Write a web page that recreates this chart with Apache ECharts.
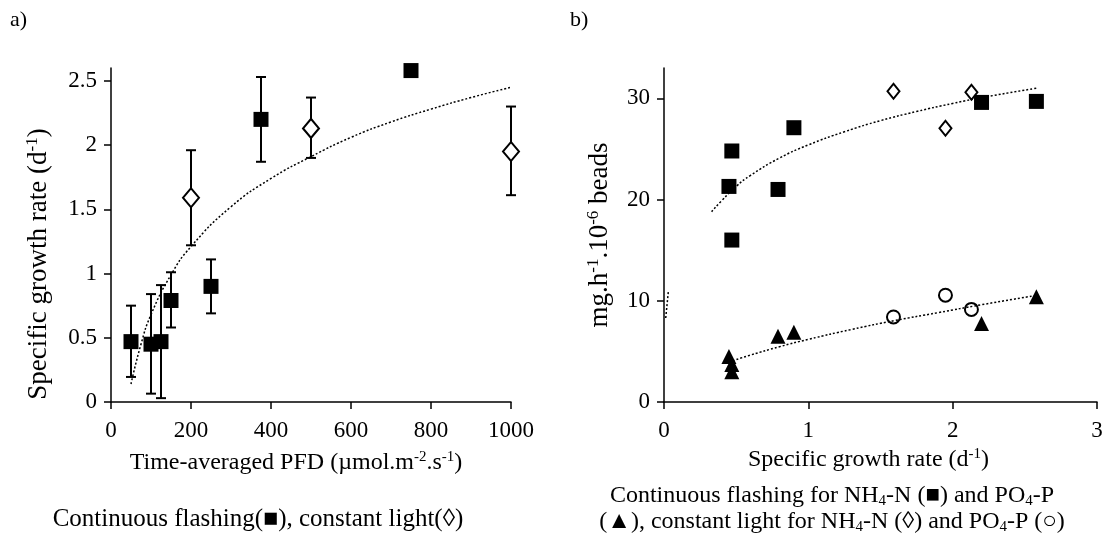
<!DOCTYPE html>
<html>
<head>
<meta charset="utf-8">
<script src="https://cdn.jsdelivr.net/npm/echarts@6/dist/echarts.min.js"></script>
<style>
html, body { margin: 0; background: #fff; }
#main { width: 1108px; height: 560px; }
</style>
</head>
<body>
<div id="main"></div>
<script>
// a) growth rate vs light
var pfdFlash = [50, 100, 125, 150, 250, 375, 750];
var growthFlash = [0.47, 0.45, 0.47, 0.79, 0.9, 2.2, 2.58];
var errFlashHigh = [0.75, 0.84, 0.91, 1.01, 1.11, 2.53, null];
var errFlashLow = [0.195, 0.065, 0.03, 0.58, 0.69, 1.87, null];

var pfdConst = [200, 500, 1000];
var growthConst = [1.59, 2.13, 1.95];
var errConstHigh = [1.96, 2.37, 2.30];
var errConstLow = [1.22, 1.90, 1.61];

// trend line a)
var trendPfd = [50, 75, 100, 150, 200, 300, 400, 500, 600, 700, 800, 900, 1000];
var trendGrowth = [0.14, 0.45, 0.68, 0.99, 1.21, 1.52, 1.74, 1.91, 2.06, 2.18, 2.28, 2.37, 2.45];

// b) uptake vs growth rate (x = growthFlash / growthConst)
var nh4Flash = [24.8, 21.3, 16.0, 21.0, 27.1, 29.6, 29.7];
var po4Flash = [3.7, 4.5, 3.0, 6.5, 6.9, 7.75, 10.4];
var nh4Const = [30.7, 30.6, 27.05];
var po4Const = [8.4, 9.15, 10.55];

var trendNhX = [0.33, 0.4, 0.5, 0.6, 0.8, 1.0, 1.25, 1.5, 1.75, 2.0, 2.25, 2.58];
var trendNhY = [18.8, 19.9, 21.3, 22.4, 24.1, 25.4, 26.7, 27.8, 28.7, 29.5, 30.2, 31.0];
var trendPoX = [0.45, 0.6, 0.8, 1.0, 1.3, 1.6, 1.9, 2.2, 2.58];
var trendPoY = [3.95, 4.64, 5.46, 6.19, 7.17, 8.05, 8.83, 9.61, 10.53];
var stubX = [0.012, 0.03];
var stubY = [8.3, 10.9];

var ticksA = [0, 0.5, 1, 1.5, 2, 2.5];
var ticksB = [0, 10, 20, 30];

var font = "'Liberation Serif', 'Times New Roman', serif";
var myChart = echarts.init(document.getElementById('main'));

function zip(xs, ys) {
	return xs.map(function (x, i) { return [x, ys[i]]; });
}

function errData(xs, lo, hi) {
	var out = [];
	for (var i = 0; i < xs.length; i++) {
		if (lo[i] == null) continue;
		out.push([xs[i], lo[i], hi[i]]);
	}
	return out;
}

function renderErr(params, api) {
	var top = api.coord([api.value(0), api.value(2)]);
	var bot = api.coord([api.value(0), api.value(1)]);
	var w = 5;
	var st = { stroke: '#000', lineWidth: 2 };
	return {
		type: 'group',
		children: [
			{ type: 'line', shape: { x1: top[0], y1: top[1], x2: bot[0], y2: bot[1] }, style: st },
			{ type: 'line', shape: { x1: top[0] - w, y1: top[1], x2: top[0] + w, y2: top[1] }, style: st },
			{ type: 'line', shape: { x1: bot[0] - w, y1: bot[1], x2: bot[0] + w, y2: bot[1] }, style: st }
		]
	};
}

var axisLine = { lineStyle: { color: '#000', width: 1.5 } };
var axisTick = { length: 7, lineStyle: { color: '#000', width: 1.5 } };
var labelStyle = { color: '#000', fontFamily: font, fontSize: 23, formatter: function (v) { return String(v); } };
function nameStyle(size, padding) {
	return {
		color: '#000', fontFamily: font, fontSize: size, lineHeight: size + 2, padding: padding,
		rich: {
			sup: { fontFamily: font, fontSize: Math.round(size * 0.62), color: '#000', verticalAlign: 'top', lineHeight: size + 2 }
		}
	};
}

var dotted = { color: '#000', width: 1.5, type: [2, 2] };

option = {
	animation: false,
	grid: [
		{ left: 111, top: 68, width: 400, height: 334 },
		{ left: 664, top: 68, width: 433, height: 334 }
	],
	xAxis: [{
		gridIndex: 0, type: 'value', min: 0, max: 1000, interval: 200,
		axisLine: axisLine, axisTick: axisTick, splitLine: { show: false },
		axisLabel: Object.assign({ margin: 17 }, labelStyle),
		name: 'Time-averaged PFD (µmol.m{sup|-2}.s{sup|-1})',
		nameLocation: 'middle', nameGap: 48, nameTextStyle: nameStyle(24, [0, 30, 0, 0])
	}, {
		gridIndex: 1, type: 'value', min: 0, max: 3, interval: 1,
		axisLine: axisLine, axisTick: axisTick, splitLine: { show: false },
		axisLabel: Object.assign({ margin: 17 }, labelStyle),
		name: 'Specific growth rate (d{sup|-1})',
		nameLocation: 'middle', nameGap: 42, nameTextStyle: nameStyle(24, [0, 24, 0, 0])
	}],
	yAxis: [{
		gridIndex: 0, type: 'value', min: 0, max: 2.6,
		axisLine: axisLine, splitLine: { show: false },
		axisTick: Object.assign({ customValues: ticksA }, axisTick),
		axisLabel: Object.assign({ margin: 14, customValues: ticksA }, labelStyle),
		name: 'Specific growth rate (d{sup|-1})',
		nameLocation: 'middle', nameGap: 58, nameRotate: 90, nameTextStyle: nameStyle(27, [0, 58, 0, 0])
	}, {
		gridIndex: 1, type: 'value', min: 0, max: 33,
		axisLine: axisLine, splitLine: { show: false },
		axisTick: Object.assign({ customValues: ticksB }, axisTick),
		axisLabel: Object.assign({ margin: 14, customValues: ticksB }, labelStyle),
		name: 'mg.h{sup|-1}.10{sup|-6} beads',
		nameLocation: 'middle', nameGap: 50, nameRotate: 90, nameTextStyle: nameStyle(27, 0)
	}],
	graphic: [
		{ type: 'text', x: 10, y: 9, style: { text: 'a)', font: '22px ' + font, fill: '#000' } },
		{ type: 'text', x: 570, y: 9, style: { text: 'b)', font: '22px ' + font, fill: '#000' } },
		{ type: 'text', x: 258, y: 519, style: {
			text: 'Continuous flashing(\u25A0), constant light(\u25CA)',
			font: '25px ' + font, fill: '#000', align: 'center', verticalAlign: 'middle',
			textAlign: 'center', textVerticalAlign: 'middle'
		} },
		{ type: 'text', x: 832, y: 509, style: {
			text: 'Continuous flashing for NH{sub|4}-N (\u25A0) and PO{sub|4}-P\n(\u25B2), constant light for NH{sub|4}-N (\u25CA) and PO{sub|4}-P (\u25CB)',
			font: '24px ' + font, fill: '#000', lineHeight: 26, align: 'center', verticalAlign: 'middle',
			textAlign: 'center', textVerticalAlign: 'middle',
			rich: { sub: { font: '15px ' + font, fill: '#000', verticalAlign: 'bottom', lineHeight: 26 } }
		} }
	],
	series: [
		{ type: 'custom', xAxisIndex: 0, yAxisIndex: 0, renderItem: renderErr, z: 2, silent: true,
			data: errData(pfdFlash, errFlashLow, errFlashHigh) },
		{ type: 'custom', xAxisIndex: 0, yAxisIndex: 0, renderItem: renderErr, z: 2, silent: true,
			data: errData(pfdConst, errConstLow, errConstHigh) },
		{ type: 'scatter', xAxisIndex: 0, yAxisIndex: 0, symbol: 'rect', symbolSize: 15, z: 3,
			itemStyle: { color: '#000', opacity: 1 }, data: zip(pfdFlash, growthFlash) },
		{ type: 'scatter', xAxisIndex: 0, yAxisIndex: 0, symbol: 'diamond', symbolSize: [16, 19], z: 3,
			itemStyle: { color: '#fff', borderColor: '#000', borderWidth: 2, opacity: 1 }, data: zip(pfdConst, growthConst) },
		{ type: 'line', xAxisIndex: 0, yAxisIndex: 0, showSymbol: false, smooth: true, z: 4, silent: true,
			lineStyle: dotted, data: zip(trendPfd, trendGrowth) },

		{ type: 'scatter', xAxisIndex: 1, yAxisIndex: 1, symbol: 'rect', symbolSize: 15, z: 3,
			itemStyle: { color: '#000', opacity: 1 }, data: zip(growthFlash, nh4Flash) },
		{ type: 'scatter', xAxisIndex: 1, yAxisIndex: 1, symbol: 'diamond', symbolSize: [12, 15], z: 3,
			itemStyle: { color: '#fff', borderColor: '#000', borderWidth: 2, opacity: 1 }, data: zip(growthConst, nh4Const) },
		{ type: 'scatter', xAxisIndex: 1, yAxisIndex: 1, symbol: 'triangle', symbolSize: 15, z: 3,
			itemStyle: { color: '#000', opacity: 1 }, data: zip(growthFlash, po4Flash) },
		{ type: 'scatter', xAxisIndex: 1, yAxisIndex: 1, symbol: 'circle', symbolSize: 13, z: 3,
			itemStyle: { color: '#fff', borderColor: '#000', borderWidth: 2, opacity: 1 }, data: zip(growthConst, po4Const) },
		{ type: 'line', xAxisIndex: 1, yAxisIndex: 1, showSymbol: false, smooth: true, z: 4, silent: true,
			lineStyle: dotted, data: zip(trendNhX, trendNhY) },
		{ type: 'line', xAxisIndex: 1, yAxisIndex: 1, showSymbol: false, smooth: true, z: 4, silent: true,
			lineStyle: dotted, data: zip(trendPoX, trendPoY) },
		{ type: 'line', xAxisIndex: 1, yAxisIndex: 1, showSymbol: false, z: 4, silent: true,
			lineStyle: dotted, data: zip(stubX, stubY) }
	]
};
myChart.setOption(option);
</script>
</body>
</html>
